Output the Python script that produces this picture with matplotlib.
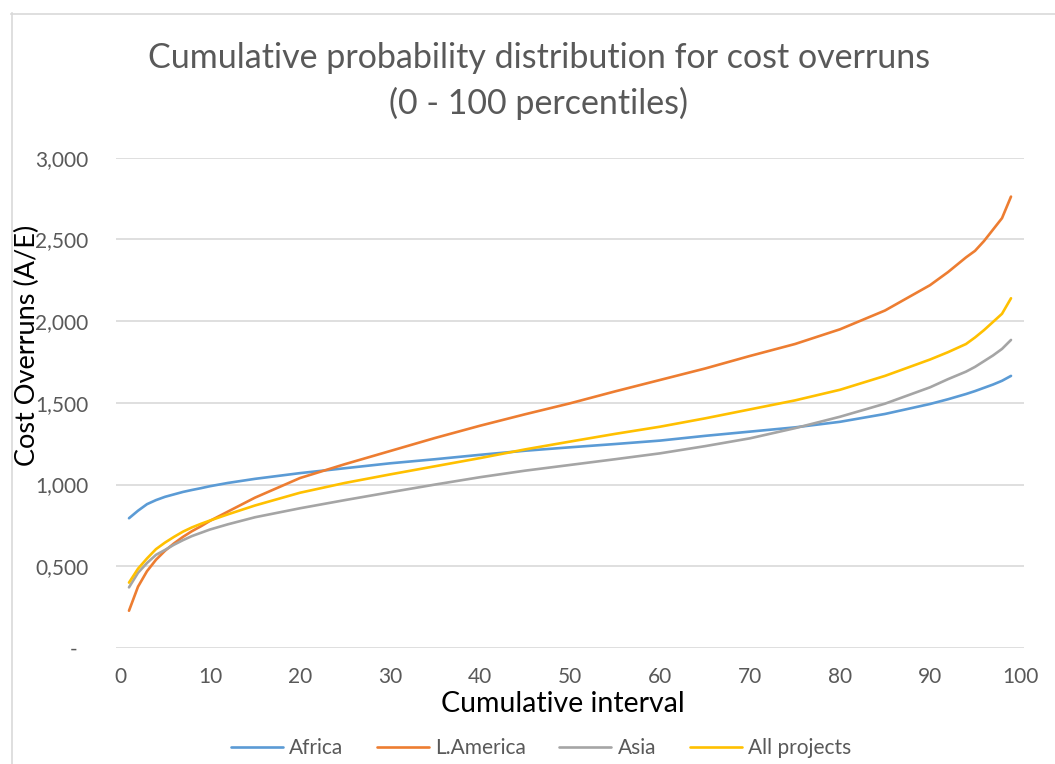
import matplotlib
matplotlib.use("Agg")
import matplotlib.pyplot as plt
from matplotlib.lines import Line2D

plt.rcParams['font.family'] = ['Lato', 'DejaVu Sans']

# Percentile positions (cumulative interval)
percentiles = [1, 2, 3, 4, 5, 6, 7, 8, 9, 10, 12, 15, 20, 25, 30, 35, 40, 45, 50,
               55, 60, 65, 70, 75, 80, 85, 90, 92, 94, 95, 96, 97, 98, 99]

# Cost overruns (A/E, x1000) at each percentile
africa = [794, 840, 880, 905, 925, 940, 955, 967, 978, 990, 1010, 1035, 1070, 1100,
          1130, 1155, 1182, 1207, 1228, 1248, 1269, 1298, 1324, 1350, 1384, 1432,
          1493, 1522, 1554, 1572, 1592, 1612, 1635, 1665]
l_america = [228, 375, 470, 540, 595, 640, 680, 715, 745, 778, 835, 920, 1040, 1125,
             1205, 1285, 1360, 1430, 1497, 1570, 1640, 1710, 1787, 1860, 1950, 2065,
             2220, 2300, 2390, 2430, 2490, 2560, 2630, 2762]
asia = [371, 460, 520, 570, 600, 632, 660, 685, 705, 725, 757, 800, 855, 905, 953,
        1000, 1045, 1085, 1120, 1155, 1191, 1235, 1283, 1345, 1415, 1495, 1595, 1645,
        1691, 1720, 1755, 1790, 1830, 1885]
all_projects = [400, 485, 548, 605, 645, 680, 712, 738, 760, 780, 818, 872, 950, 1010,
                1062, 1112, 1162, 1215, 1263, 1310, 1354, 1405, 1460, 1515, 1580, 1665,
                1765, 1810, 1860, 1900, 1945, 1995, 2045, 2140]

series_names = ["Africa", "L.America", "Asia", "All projects"]
series_colors = ["#5B9BD5", "#ED7D31", "#A5A5A5", "#FFC000"]

x_ticks = [0, 10, 20, 30, 40, 50, 60, 70, 80, 90, 100]
y_ticks = [0, 500, 1000, 1500, 2000, 2500, 3000]
y_tick_labels = ["-  ", "0,500", "1,000", "1,500", "2,000", "2,500", "3,000"]

W, H = 1055, 764
fig = plt.figure(figsize=(W / 100, H / 100), dpi=100)
fig.patch.set_facecolor("white")

# chart frame (left and top edges)
fig.add_artist(Line2D([11.5 / W, 11.5 / W], [0, 1 - 13 / H], color="#D9D9D9", lw=1.2))
fig.add_artist(Line2D([11 / W, 1], [1 - 13.5 / H, 1 - 13.5 / H], color="#D9D9D9", lw=1.2))

left, right = 116 / W, 1024 / W
bottom, top = 1 - 648 / H, 1 - 157.7 / H
ax = fig.add_axes([left, bottom, right - left, top - bottom])

for vals, name, col in zip([africa, l_america, asia, all_projects], series_names, series_colors):
    ax.plot(percentiles, vals, color=col, lw=1.9, label=name, solid_capstyle="round")

ax.set_xlim(-0.444, 100.444)
ax.set_ylim(0, 3000)
ax.set_xticks(x_ticks)
ax.set_yticks(y_ticks)
ax.set_yticklabels(y_tick_labels)
ax.tick_params(axis="both", length=0, labelsize=15, labelcolor="#595959")
ax.tick_params(axis="y", pad=20)
ax.tick_params(axis="x", pad=14)
ax.grid(axis="y", color="#D9D9D9", lw=1.2)
ax.set_axisbelow(True)
for s in ax.spines.values():
    s.set_visible(False)

fig.text(539 / W, 1 - 58 / H, "Cumulative probability distribution for cost overruns",
         ha="center", va="center", fontsize=24.5, color="#595959")
fig.text(539 / W, 1 - 103 / H, "(0 - 100 percentiles)",
         ha="center", va="center", fontsize=24.5, color="#595959")
fig.text(27 / W, 1 - 345 / H, "Cost Overruns (A/E)", rotation=90,
         ha="center", va="center", fontsize=19.5, color="black")
fig.text(563 / W, 1 - 704 / H, "Cumulative interval",
         ha="center", va="center", fontsize=20.5, color="black")

fig.legend(loc="center", bbox_to_anchor=(541 / W, 1 - 748 / H), ncol=4, frameon=False,
           fontsize=15, labelcolor="#595959", handlelength=2.5, handletextpad=0.3,
           columnspacing=1.6)

fig.savefig("out.png", dpi=100)
